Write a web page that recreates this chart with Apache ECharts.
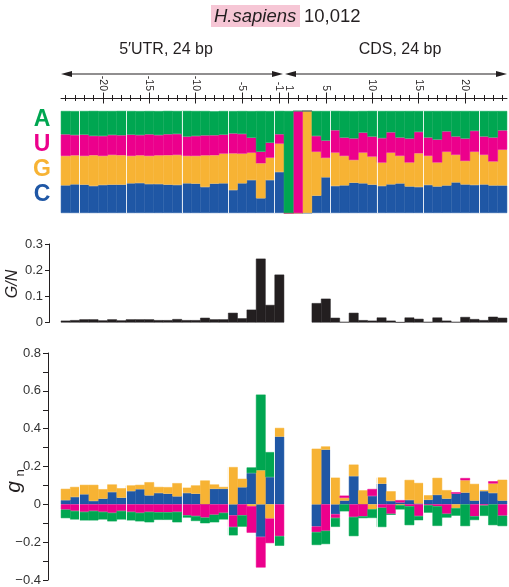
<!DOCTYPE html>
<html><head><meta charset="utf-8">
<script src="https://cdn.jsdelivr.net/npm/echarts@6/dist/echarts.min.js"></script>
<style>html,body{margin:0;padding:0;background:#fff}#c{width:509px;height:587px}</style>
</head><body><div id="c"></div>
<script>
// ---------- data ----------
const positions = ['-24','-23','-22','-21','-20','-19','-18','-17','-16','-15','-14','-13','-12','-11','-10','-9','-8','-7','-6','-5','-4','-3','-2','-1',
                   '1','2','3','4','5','6','7','8','9','10','11','12','13','14','15','16','17','18','19','20','21','22','23','24'];
const majorTickLabels = ['-20','-15','-10','-5','-1','1','5','10','15','20'];
const separatorsBefore = ['-22','-17','-11','-6','-1','6','11','16','22'];

// nucleotide frequencies (top panel)
const freqC = [.271,.281,.278,.265,.275,.278,.278,.291,.294,.284,.284,.278,.275,.291,.288,.255,.288,.291,.225,.291,.323,.144,.323,.402,
               0,0,0,.17,.35,.265,.271,.297,.291,.278,.265,.281,.29,.26,.255,.275,.26,.27,.3,.28,.275,.28,.27,.27];
const freqG = [.288,.284,.281,.301,.284,.291,.288,.268,.271,.275,.281,.288,.294,.268,.271,.310,.278,.291,.359,.291,.268,.343,.219,.278,
               0,0,1,.43,.19,.327,.288,.222,.301,.275,.229,.31,.27,.235,.33,.285,.235,.33,.27,.23,.325,.29,.235,.35];
const freqU = [.212,.199,.209,.190,.196,.196,.196,.209,.199,.212,.199,.206,.206,.190,.196,.196,.196,.186,.196,.193,.147,.114,.147,.092,
               0,1,0,.155,.17,.219,.18,.212,.196,.196,.24,.2,.18,.235,.21,.18,.225,.2,.18,.22,.205,.18,.235,.19];
const freqA = [.229,.235,.232,.245,.245,.235,.239,.232,.235,.229,.235,.229,.225,.252,.245,.239,.235,.232,.219,.225,.261,.399,.310,.229,
               1,0,0,.245,.29,.19,.261,.268,.212,.252,.266,.209,.26,.27,.205,.26,.28,.2,.25,.27,.195,.25,.26,.19];

// G/N
const gOverN = [.007,.009,.012,.012,.008,.012,.008,.012,.012,.012,.009,.009,.013,.009,.009,.018,.012,.012,.037,.016,.049,.244,.067,.183,
                null,null,null,.074,.091,.018,.002,.037,.009,.007,.019,.007,.001,.019,.014,.002,.019,.007,.002,.021,.013,.009,.022,.018];

// g_n per nucleotide
const gnC = [.022,.039,.053,.018,.03,.065,.035,.07,.08,.047,.06,.056,.042,.06,.056,0,.082,.082,-.058,.09,.165,-.172,.144,.358,
             null,null,null,-.117,.289,-.052,.02,.149,0,.044,.109,.018,.01,.023,.004,.024,.05,.03,.056,.062,.02,.07,.06,.02];
const gnG = [.06,.053,.05,.085,.05,.04,.05,.03,.023,.07,.032,.035,.07,.028,.044,.126,.023,.01,.197,.045,-.01,.18,-.075,.046,
             null,null,null,.294,.017,.141,.014,.061,.074,-.026,.033,.051,-.004,.106,.109,.024,.09,.045,-.02,.065,.088,.005,.05,.11];
const gnU = [-.028,-.035,-.04,-.035,-.04,-.045,-.035,-.04,-.045,-.04,-.042,-.042,-.04,-.058,-.062,-.07,-.055,-.045,-.062,-.058,-.14,-.162,-.13,-.168,
             null,null,null,-.03,-.14,-.02,.012,-.067,-.063,.037,-.018,-.05,.012,-.01,-.062,-.004,-.01,-.05,.008,.012,-.063,-.006,.012,-.06];
const gnA = [-.045,-.045,-.045,-.05,-.04,-.045,-.045,-.045,-.045,-.055,-.04,-.04,-.055,-.012,-.026,-.03,-.04,-.035,-.044,-.06,.03,.40,.132,-.051,
             null,null,null,-.068,-.07,-.047,-.037,-.101,-.01,-.046,-.102,-.005,-.023,-.10,-.022,-.04,-.104,-.02,-.04,-.115,-.02,-.055,-.11,-.055];

// ---------- style ----------
const FONT = '"Liberation Sans", Arial, Helvetica, sans-serif';
const INK = '#231f20';
const COL = {A:'#00a651', U:'#ec008c', G:'#f7b334', C:'#1f57a5'};

const chart = echarts.init(document.getElementById('c'), null, {renderer:'canvas'});
const isMajor = (i, v) => majorTickLabels.indexOf(positions[i]) >= 0;
const sepLines = separatorsBefore.map(p => ({xAxis: positions.indexOf(p)}));

const G0 = {left:61, right:2, top:111, height:102};
const G1 = {left:61, right:2, top:244, height:78.5};
const G2 = {left:61, right:2, top:353, height:227};

function hiddenCat(grid){
  return {type:'category', gridIndex:grid, data:positions, show:false};
}
function sepAxis(grid){
  return {type:'value', gridIndex:grid, min:0, max:positions.length, show:false, axisLine:{onZero:false}};
}
function ruler(opts){
  return Object.assign({type:'category', gridIndex:0, data:positions, position:'top', offset:13,
    axisLine:{show:false, lineStyle:{color:INK}}, axisLabel:{show:false},
    splitLine:{show:false}}, opts);
}
function barStyle(c){ return {color:c, borderColor:c, borderWidth:0.5}; }
function bar(name, xi, yi, stack, data, color){
  return {name, type:'bar', xAxisIndex:xi, yAxisIndex:yi, stack, data, barWidth:'104%', itemStyle:barStyle(color)};
}
function separators(xi, yi){
  return {type:'line', xAxisIndex:xi, yAxisIndex:yi, data:[], z:10, silent:true,
    markLine:{silent:true, symbol:['none','none'], label:{show:false}, animation:false,
      lineStyle:{color:'#ffffff', width:1, type:'solid', opacity:0.85}, emphasis:{disabled:true},
      data:sepLines}};
}

const option = {
  animation:false,
  backgroundColor:'#ffffff',
  grid:[G0, G1, G2],
  xAxis:[
    hiddenCat(0),
    ruler({axisLine:{show:true, onZero:false, lineStyle:{color:INK, width:1}}, axisTick:{show:true, alignWithLabel:true, interval:0, length:3, lineStyle:{color:INK}}}),
    ruler({axisTick:{show:true, inside:true, alignWithLabel:true, interval:0, length:3, lineStyle:{color:INK}}}),
    ruler({axisTick:{show:true, alignWithLabel:true, interval:isMajor, length:5.5, lineStyle:{color:INK}},
           axisLabel:{show:true, interval:isMajor, rotate:90, margin:7, fontSize:10.5, fontFamily:FONT, color:INK}}),
    ruler({axisTick:{show:true, inside:true, alignWithLabel:true, interval:isMajor, length:5.5, lineStyle:{color:INK}}}),
    hiddenCat(1),
    hiddenCat(2),
    sepAxis(0),
    sepAxis(2)
  ],
  yAxis:[
    {type:'value', gridIndex:0, min:0, max:1, show:false, axisLine:{onZero:false}},
    {type:'value', gridIndex:1, min:0, max:0.3, interval:0.1, offset:12,
      axisLine:{show:true, onZero:false, lineStyle:{color:INK}}, axisTick:{show:true, length:4, lineStyle:{color:INK}},
      splitLine:{show:false},
      axisLabel:{margin:6, fontSize:13, fontFamily:FONT, color:'#333',
        formatter:v => { const t = Math.round(v*10); return t===0 ? '0' : (t/10).toFixed(1); }}},
    {type:'value', gridIndex:2, min:-0.4, max:0.8, interval:0.1, offset:13,
      axisLine:{show:true, onZero:false, lineStyle:{color:INK}}, axisTick:{show:true, length:5, lineStyle:{color:INK}},
      splitLine:{show:false},
      axisLabel:{margin:7, fontSize:13, fontFamily:FONT, color:'#333',
        formatter:v => { const t = Math.round(v*10); if (t % 2 !== 0) return ''; if (t===0) return '0';
                         return (t<0 ? '\u2212' : '') + Math.abs(t/10).toFixed(1); }}}
  ],
  series:[
    bar('C', 0, 0, 'freq', freqC, COL.C),
    bar('G', 0, 0, 'freq', freqG, COL.G),
    bar('U', 0, 0, 'freq', freqU, COL.U),
    bar('A', 0, 0, 'freq', freqA, COL.A),
    bar('G/N', 5, 1, null, gOverN, INK),
    bar('gC', 6, 2, 'gn', gnC, COL.C),
    bar('gG', 6, 2, 'gn', gnG, COL.G),
    bar('gU', 6, 2, 'gn', gnU, COL.U),
    bar('gA', 6, 2, 'gn', gnA, COL.A),
    separators(7, 0),
    separators(8, 2)
  ],
  graphic:[
    {type:'rect', shape:{x:211, y:5, width:89, height:22}, style:{fill:'#f6c6d5'}},
    {type:'text', x:214, y:16.5, style:{text:'H.sapiens', fontSize:18.5, fontStyle:'italic', fontFamily:FONT, fill:INK, align:'left', verticalAlign:'middle'}},
    {type:'text', x:304, y:16.5, style:{text:'10,012', fontSize:18.5, fontFamily:FONT, fill:INK, align:'left', verticalAlign:'middle'}},
    {type:'text', x:166, y:50, style:{text:'5\u2032UTR, 24 bp', fontSize:16, fontFamily:FONT, fill:INK, align:'center', verticalAlign:'middle'}},
    {type:'text', x:400, y:50, style:{text:'CDS, 24 bp', fontSize:16, fontFamily:FONT, fill:INK, align:'center', verticalAlign:'middle'}},
    {type:'line', shape:{x1:66, y1:74, x2:278, y2:74}, style:{stroke:INK, lineWidth:1.2}},
    {type:'polygon', shape:{points:[[61,74],[72,71],[72,77]]}, style:{fill:INK}},
    {type:'polygon', shape:{points:[[283,74],[272,71],[272,77]]}, style:{fill:INK}},
    {type:'line', shape:{x1:290, y1:74, x2:502, y2:74}, style:{stroke:INK, lineWidth:1.2}},
    {type:'polygon', shape:{points:[[285,74],[296,71],[296,77]]}, style:{fill:INK}},
    {type:'polygon', shape:{points:[[507,74],[496,71],[496,77]]}, style:{fill:INK}},
    {type:'text', x:42, y:120, style:{text:'A', fontSize:23, fontWeight:'bold', fontFamily:FONT, fill:COL.A, align:'center', verticalAlign:'middle'}},
    {type:'text', x:42, y:145, style:{text:'U', fontSize:23, fontWeight:'bold', fontFamily:FONT, fill:COL.U, align:'center', verticalAlign:'middle'}},
    {type:'text', x:42, y:170, style:{text:'G', fontSize:23, fontWeight:'bold', fontFamily:FONT, fill:COL.G, align:'center', verticalAlign:'middle'}},
    {type:'text', x:42, y:195, style:{text:'C', fontSize:23, fontWeight:'bold', fontFamily:FONT, fill:COL.C, align:'center', verticalAlign:'middle'}},
    {type:'text', x:13, y:284, rotation:Math.PI/2, style:{text:'G/N', fontSize:16, fontStyle:'italic', fontFamily:FONT, fill:INK, align:'center', verticalAlign:'middle'}},
    {type:'text', x:14, y:487, rotation:Math.PI/2, style:{text:'g', fontSize:21, fontStyle:'italic', fontFamily:FONT, fill:INK, align:'center', verticalAlign:'middle'}},
    {type:'text', x:20, y:473, rotation:Math.PI/2, style:{text:'n', fontSize:13, fontFamily:FONT, fill:INK, align:'center', verticalAlign:'middle'}}
  ]
};
chart.setOption(option);
</script>
</body></html>
